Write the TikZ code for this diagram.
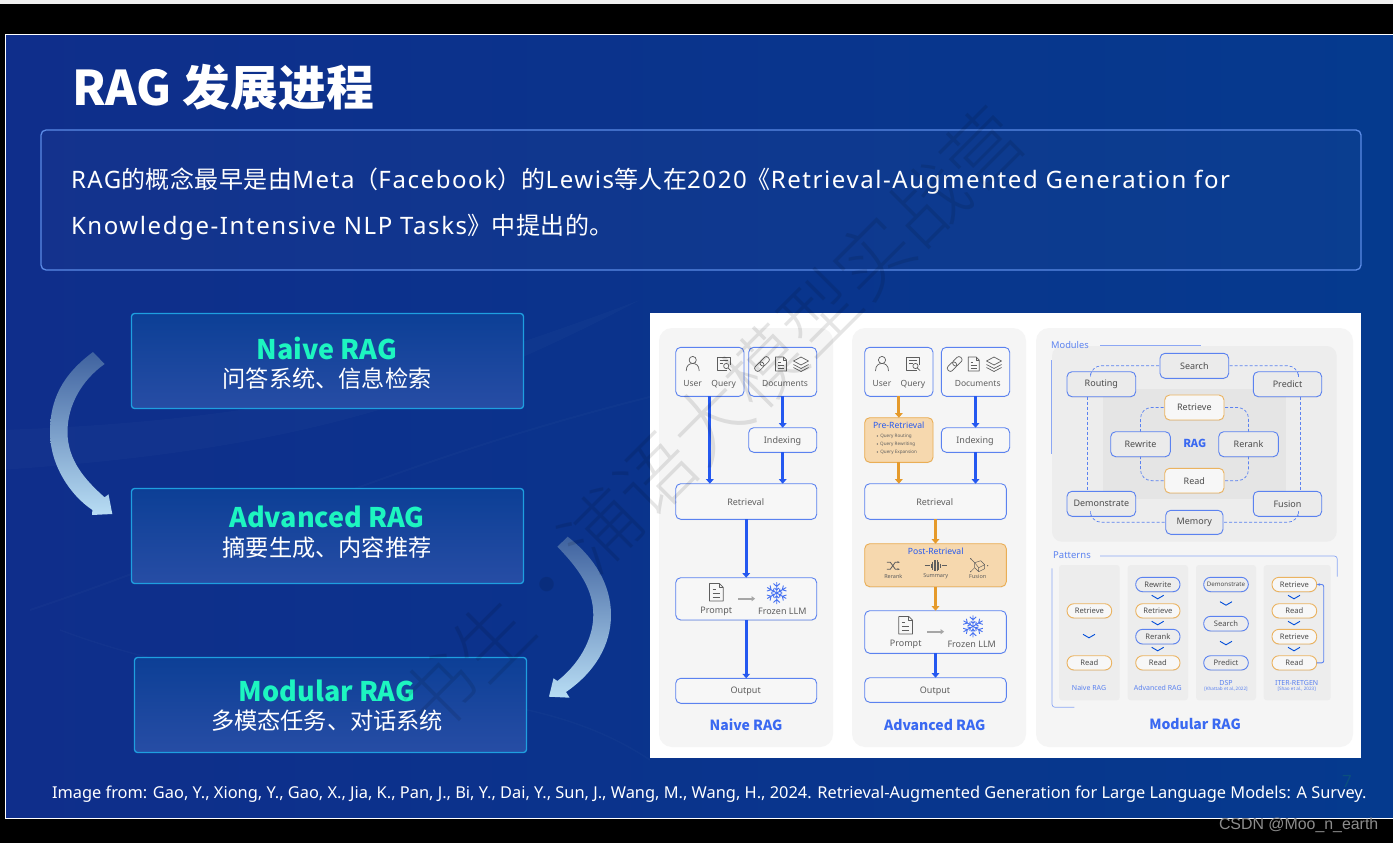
\documentclass[tikz,border=0pt]{standalone}
\usepackage{fontspec}
\setmainfont{Noto Sans}
\newfontfamily\cj{Noto Sans CJK SC}
\newfontfamily\cjt{Noto Sans CJK SC Light}
\newfontfamily\cjs[LetterSpace=2]{Noto Sans CJK SC}
\newfontfamily\las[LetterSpace=6.6]{Noto Sans}
\newfontfamily\arl{Liberation Sans}
\usetikzlibrary{arrows.meta,shadows}
\definecolor{bgl}{HTML}{0F2E8B}
\definecolor{bgr}{HTML}{053A8E}
\definecolor{bluel}{HTML}{2458F0}
\definecolor{boxb}{HTML}{5B82F0}
\definecolor{orl}{HTML}{E59A2B}
\definecolor{orf}{HTML}{F6D8AE}
\definecolor{ink}{HTML}{5E5E5E}
\definecolor{mint}{HTML}{1DF5C0}
\definecolor{sbtop}{HTML}{0C3F96}
\definecolor{sbbot}{HTML}{274DA5}
\definecolor{sbedge}{HTML}{1E9FE0}
\definecolor{arrtop}{HTML}{3F629F}
\definecolor{arrbot}{HTML}{B8DDF4}
\definecolor{introedge}{HTML}{5B8BE6}
\definecolor{pagec}{HTML}{0B4F7E}
\newcommand\fsz[1]{\fontsize{#1}{#1}\selectfont}
\newcommand\bx[6]{\node[#1,minimum width={(#5-#3)*1pt},minimum height={(#6-#4)*1pt}] (#2) at ({(#3+#5)/2},{(#4+#6)/2}) {};}
\newcommand\lb[4]{\node[txt,#1] at (#2,#3) {#4};}
\newcommand\chev[2]{\draw[chevs] (#1-6,#2-2) -- (#1,#2+1.5) -- (#1+6,#2-2);}
\tikzset{
 x=1pt,y=-1pt,
 txt/.style={inner sep=0pt,outer sep=0pt,text=ink,font=\fsz{8.5}},
 card/.style={draw=boxb,line width=.9pt,fill=white!60!black!4,rounded corners=5pt,inner sep=0pt,outer sep=0pt,drop shadow={shadow xshift=0pt,shadow yshift=-.8pt,opacity=.15}},
 flat/.style={card,fill=white!97!black},
 hot/.style={card,draw=orl!80!white,fill=orf},
 modb/.style={card,fill=black!8},
 modo/.style={card,draw=orl!75!white,fill=white!97!black},
 pillb/.style={card,rounded corners=7pt,fill=black!7},
 pillo/.style={card,draw=orl!75!white,rounded corners=7pt,fill=black!3},
 panel/.style={fill=black!4,rounded corners=13pt,inner sep=0pt,outer sep=0pt},
 shade1/.style={fill=black!7,rounded corners=10pt,inner sep=0pt,outer sep=0pt},
 shade2/.style={fill=black!10,inner sep=0pt,outer sep=0pt},
 shade3/.style={fill=black!7,rounded corners=3pt,inner sep=0pt,outer sep=0pt},
 flow/.style={draw=bluel,line width=2.9pt,-{Triangle[width=7.5pt,length=4.5pt]}},
 flowo/.style={draw=orl,line width=2.9pt,-{Triangle[width=7.5pt,length=4.5pt]}},
 dash1/.style={draw=boxb,line width=.7pt,dash pattern=on 3pt off 2pt,rounded corners=11pt},
 thin1/.style={draw=boxb!70!white,line width=.7pt,rounded corners=3pt},
 chevs/.style={draw=blue!65!cyan!85!black,line width=.9pt},
 slidebox/.style={draw=sbedge,line width=1.3pt,rounded corners=3pt,top color=sbtop,bottom color=sbbot,inner sep=0pt,outer sep=0pt},
 ic/.style={draw=ink,line width=.7pt,line join=round},
 icb/.style={draw=bluel!85!white,line width=.9pt},
 heading/.style={txt,text=bluel!90!white,font=\fsz{14}\cj\bfseries},
 pics/person/.style={code={\draw[ic] (0,-4) circle (3.6);\draw[ic] (-6.5,7) .. controls (-6.5,1) and (-3,-.5) .. (0,-.5) .. controls (3,-.5) and (6.5,1) .. (6.5,7);}},
 pics/queryic/.style={code={\draw[ic] (3.5,6.5) -- (-6.5,6.5) -- (-6.5,-6.5) -- (6.5,-6.5) -- (6.5,1);\draw[ic] (-4,-3.5)--(4,-3.5) (-4,-.5)--(-.5,-.5);\draw[ic] (2.5,2) circle (2.6);\draw[ic] (4.4,4)--(7,6.5);}},
 pics/linkic/.style={code={\begin{scope}[rotate=45]\draw[ic,rounded corners=2.5pt] (-9,-3) rectangle (1.5,3);\draw[ic,rounded corners=2.5pt] (-1.5,-3) rectangle (9,3);\end{scope}}},
 pics/docic/.style={code={\draw[ic] (-5.5,-7) -- (2.5,-7) -- (5.5,-4) -- (5.5,7) -- (-5.5,7) -- cycle;\draw[ic] (2.5,-7)--(2.5,-4)--(5.5,-4);\draw[ic] (-3,-2)--(-.5,-2) (-3,1)--(3,1) (-3,4)--(3,4);}},
 pics/layersic/.style={code={\draw[ic] (0,-7)--(7.5,-3)--(0,1)--(-7.5,-3)--cycle;\draw[ic] (-7.5,0.5)--(0,4.5)--(7.5,0.5);\draw[ic] (-7.5,3.5)--(0,7.5)--(7.5,3.5);}},
 pics/snow/.style={code={\foreach \a in {0,60,...,300}{\begin{scope}[rotate=\a]\draw[icb] (0,0)--(0,-11) (-3.2,-9.5)--(0,-6.5)--(3.2,-9.5) (-2.2,-5)--(0,-3)--(2.2,-5);\end{scope}}}},
 pics/grayarrow/.style={code={\draw[draw=black!35,line width=1.6pt,-{Triangle[width=5pt,length=3.5pt]}] (-8.5,0)--(8.5,0);}},
 pics/shuffleic/.style={code={\draw[ic,line width=.8pt,->,>={Stealth[length=2.5pt]}] (-6.5,-3.5)--(-3,-3.5)--(2,3.5)--(6.5,3.5);\draw[ic,line width=.8pt,->,>={Stealth[length=2.5pt]}] (-6.5,3.5)--(-3,3.5)--(2,-3.5)--(6.5,-3.5);}},
 pics/waveic/.style={code={\draw[ic,line width=.5pt] (-11,0)--(-6,0) (6,0)--(11,0);\foreach \p/\h in {-4.5/2,-3/4,-1.5/5.5,0/5.5,1.5/5.5,3/4,4.5/2}{\draw[ic,line width=.5pt] (\p,-\h)--(\p,\h);}}},
 pics/fusionic/.style={code={\draw[ic,line width=.45pt] (-3,-3)--(3,-5)--(7,-1)--(1,2)--cycle;\draw[ic,line width=.45pt] (-3,-3)--(-3,2)--(1,6)--(7,3)--(7,-1) (1,2)--(1,6);\draw[ic,line width=.45pt] (-7,-7)--(-3,-3) (-7,6)--(-3,2);\fill[ink] (-7,-7) circle (.7) (-7,6) circle (.7) (10,0) circle (.7);}},
}
\begin{document}
\begin{tikzpicture}
\useasboundingbox (0,0) rectangle (1393,843);
\fill[black] (0,0) rectangle (1393,843);
\fill[black!6] (0,0) rectangle (1393,4);
% slide
\shade[left color=bgl,right color=bgr,draw=white,line width=1pt] (5.5,34.5) rectangle (1394,818.5);
% faint background waves
\begin{scope}[white,opacity=.02]
\draw[line width=2pt] (30,610) .. controls (300,520) and (500,400) .. (1000,330);
\draw[line width=1.5pt] (60,630) .. controls (300,720) and (500,660) .. (650,760);
\fill (0,430) .. controls (300,420) and (450,370) .. (640,300) .. controls (450,400) and (300,450) .. (0,470) -- cycle;
\end{scope}
% title
\node[inner sep=0pt,outer sep=0pt,anchor=west,text=white] (title) at (72.5,87) {\fsz{47.8}\cj\bfseries RAG 发展进程};
% intro box
\node[draw=introedge,line width=1.3pt,fill=white,fill opacity=.025,rounded corners=5pt,minimum width=1320pt,minimum height=140pt,inner sep=0pt,outer sep=0pt] (intro) at (701,200) {};
\node[inner sep=0pt,outer sep=0pt,anchor=west,text=white] (l1) at (71,181) {\fsz{24}\las RAG{\cjs 的概念最早是由}Meta{\cjs （}Facebook{\cjs ）的}Lewis{\cjs 等人在}2020{\cjs 《}Retrieval-Augmented Generation for};
\node[inner sep=0pt,outer sep=0pt,anchor=west,text=white] (l2) at (71,227) {\fsz{24}\las Knowledge-Intensive NLP Tasks{\cjs 》中提出的。}};
% left boxes
\bx{slidebox}{nb}{131.5}{313.5}{523.5}{408.5}
\bx{slidebox}{ab}{131.5}{488.5}{523.5}{583.5}
\bx{slidebox}{mb}{134.5}{657.5}{526.5}{752.5}
\node[inner sep=0pt,text=mint] (n1) at (327,348) {\fsz{27}\cj\bfseries Naive RAG};
\node[inner sep=0pt,text=white] (n2) at (327,379) {\fsz{23.2}\cj 问答系统、信息检索};
\node[inner sep=0pt,text=mint] (a1) at (327,517) {\fsz{27}\cj\bfseries Advanced RAG};
\node[inner sep=0pt,text=white] (a2) at (327,548) {\fsz{23.2}\cj 摘要生成、内容推荐};
\node[inner sep=0pt,text=mint] (m1) at (327,691) {\fsz{27}\cj\bfseries Modular RAG};
\node[inner sep=0pt,text=white] (m2) at (327,721) {\fsz{23.2}\cj 多模态任务、对话系统};
% big curved arrows
\shade[top color=arrtop,bottom color=arrbot]
 (93,352) .. controls (62,375) and (50,400) .. (50,432) .. controls (50,465) and (70,495) .. (92.4,510) -- (92,515) -- (112.3,514) -- (108.5,494.3) -- (104.6,497.3) .. controls (85,480) and (67.5,460) .. (67.5,432) .. controls (67.5,405) and (82,380) .. (104.6,364) -- cycle;
\shade[top color=arrtop,bottom color=arrbot]
 (557.4,546.7) .. controls (580,570) and (593.3,590) .. (593.3,615) .. controls (593.3,640) and (578,665) .. (557.4,681) -- (553.5,678.3) -- (549,696.7) -- (569.6,697.7) -- (566,692) .. controls (595,672) and (611,645) .. (611,615) .. controls (611,585) and (595,558) .. (567.7,536.7) -- cycle;
% figure
\fill[white] (650,313) rectangle (1361,758);
\bx{panel}{pn}{659}{328}{833}{747}
\bx{panel}{pa}{852}{328}{1026}{747}
\bx{panel}{pm}{1036}{328}{1353}{747}
% ---------- Naive
\bx{flat}{nuq}{675.7}{347.3}{744}{396.3}
\bx{flat}{ndoc}{748.7}{347.3}{816.7}{396.3}
\bx{flat}{nidx}{748.7}{427.7}{816.7}{452.3}
\bx{flat}{nret}{675.7}{483.7}{816.7}{519.3}
\bx{flat}{npr}{675.7}{577.7}{816.7}{620}
\bx{flat}{nout}{675.7}{678.3}{816.7}{703.3}
\draw[flow] (nuq.south) -- (nuq.south |- nret.north);
\draw[flow] (ndoc.south) -- (nidx.north);
\draw[flow] (nidx.south) -- (nidx.south |- nret.north);
\draw[flow] (nret.south) -- (npr.north);
\draw[flow] (npr.south) -- (nout.north);
\pic at (692.7,364) {person};
\pic at (723.7,364) {queryic};
\pic at (762,364) {linkic};
\pic at (781,364) {docic};
\pic at (801,364) {layersic};
\lb{}{692.7}{384}{User}
\lb{}{723.7}{384}{Query}
\lb{}{785}{384}{Documents}
\lb{font=\fsz{9}}{782.5}{441}{Indexing}
\lb{font=\fsz{9}}{745.7}{502}{Retrieval}
\pic[scale=1.25] at (716.3,592.3) {docic};
\pic at (746.6,598.7) {grayarrow};
\pic at (776.7,593) {snow};
\lb{font=\fsz{9}}{716.3}{611}{Prompt}
\lb{font=\fsz{9}}{782.3}{611}{Frozen LLM}
\lb{font=\fsz{9}}{745.7}{691.5}{Output}
\node[heading] (tn) at (746,724.5) {Naive RAG};
% ---------- Advanced
\bx{flat}{auq}{864.7}{347.3}{933}{396.3}
\bx{flat}{adoc}{941.3}{347.3}{1009.7}{396.3}
\bx{flat}{aidx}{941.3}{427.7}{1009.7}{452.3}
\bx{hot}{apre}{864.7}{417.7}{933}{462.3}
\bx{flat}{aret}{864.7}{483.7}{1006.3}{519.3}
\bx{hot}{apost}{864.7}{543.7}{1006.3}{586.7}
\bx{flat}{apr}{864.7}{610.7}{1006.3}{653.3}
\bx{flat}{aout}{864.7}{677.7}{1006.3}{702.3}
\draw[flowo] (auq.south) -- (apre.north);
\draw[flowo] (apre.south) -- (apre.south |- aret.north);
\draw[flow] (adoc.south) -- (aidx.north);
\draw[flow] (aidx.south) -- (aidx.south |- aret.north);
\draw[flowo] (aret.south) -- (apost.north);
\draw[flowo] (apost.south) -- (apr.north);
\draw[flow] (apr.south) -- (aout.north);
\pic at (882,364) {person};
\pic at (913,364) {queryic};
\pic at (954.7,364) {linkic};
\pic at (973.7,364) {docic};
\pic at (994,364) {layersic};
\lb{}{882}{384}{User}
\lb{}{913}{384}{Query}
\lb{}{977.7}{384}{Documents}
\lb{font=\fsz{9}}{975}{441}{Indexing}
\lb{text=bluel,font=\fsz{8.6}}{898.7}{425.7}{Pre-Retrieval}
\lb{font=\fsz{4.6}}{896}{436}{Query Routing}
\lb{font=\fsz{4.6}}{897.7}{444}{Query Rewriting}
\lb{font=\fsz{4.6}}{898.7}{452}{Query Expansion}
\fill[ink] (877.3,436) circle (.7) (877.3,444) circle (.7) (877.3,452) circle (.7);
\lb{font=\fsz{9}}{934.7}{502}{Retrieval}
\lb{text=bluel,font=\fsz{8.6}}{935.7}{551.7}{Post-Retrieval}
\pic at (893.3,565.7) {shuffleic};
\pic at (935.7,565.7) {waveic};
\pic at (977.7,565.7) {fusionic};
\lb{font=\fsz{5.5}}{893.3}{576.3}{Rerank}
\lb{font=\fsz{5.5}}{935.7}{576.3}{Summary}
\lb{font=\fsz{5.5}}{977.7}{576.3}{Fusion}
\pic[scale=1.25] at (905.7,625.3) {docic};
\pic at (935.6,631.7) {grayarrow};
\pic at (973,626.3) {snow};
\lb{font=\fsz{9}}{905.7}{644.5}{Prompt}
\lb{font=\fsz{9}}{971.7}{644.5}{Frozen LLM}
\lb{font=\fsz{9}}{935}{691}{Output}
\node[heading] (ta) at (934.7,724.7) {Advanced RAG};
% ---------- Modules
\coordinate (mla) at (1100,345); \coordinate (mlb) at (1200.7,345);
\coordinate (mva) at (1051.3,360); \coordinate (mvb) at (1051.3,454);
\bx{shade1}{mg}{1052}{346}{1336.7}{541.7}
\draw[thin1] (mla) -- (mlb);
\draw[thin1] (mva) -- (mvb);
\lb{text=boxb,font=\fsz{9.3}}{1070}{345}{Modules}
\bx{shade2}{mi}{1103.3}{389}{1285.7}{499.3}
\bx{modb}{search}{1160}{353.3}{1228.7}{378.3}
\bx{modb}{routing}{1067}{371.7}{1135.7}{396.7}
\bx{modb}{predict}{1253.3}{371.7}{1321.7}{396.7}
\bx{modb}{demo}{1067}{491.3}{1135.7}{516.3}
\bx{modb}{fusion}{1253.3}{491.3}{1321.7}{516.3}
\bx{modb}{memory}{1165.7}{510.3}{1223}{534.3}
\bx{modo}{retr}{1164.7}{395}{1224}{420}
\bx{modo}{read}{1164.7}{468.3}{1224}{493}
\bx{modb}{rewrite}{1110.7}{431.7}{1170.3}{456.7}
\bx{modb}{rerank}{1218.7}{431.7}{1278.3}{456.7}
\draw[dash1] ([xshift=-1pt]search.west) -| ([xshift=-11pt]routing.north);
\draw[dash1] ([xshift=1pt]search.east) -| ([xshift=11pt]predict.north);
\draw[dash1] ([xshift=-14pt]routing.south) -- ([xshift=-14pt]demo.north);
\draw[dash1] ([xshift=13pt]predict.south) -- ([xshift=13pt]fusion.north);
\draw[dash1] ([xshift=-1pt]memory.west) -| ([xshift=-11pt]demo.south);
\draw[dash1] ([xshift=1pt]memory.east) -| ([xshift=11pt]fusion.south);
\draw[dash1] ([xshift=-1pt]retr.west) -| (rewrite.north);
\draw[dash1] ([xshift=1pt]retr.east) -| (rerank.north);
\draw[dash1] ([xshift=-1pt]read.west) -| (rewrite.south);
\draw[dash1] ([xshift=1pt]read.east) -| (rerank.south);
\foreach \n/\t in {search/Search,routing/Routing,predict/Predict,demo/Demonstrate,fusion/Fusion,memory/Memory,retr/Retrieve,read/Read,rewrite/Rewrite,rerank/Rerank}{\node[txt,text=black!70,font=\fsz{9}] at (\n) {\t};}
\node[txt,text=bluel!90!white,font=\fsz{11}\cj\bfseries] (ragc) at (1194.7,443.7) {RAG};
% ---------- Patterns
\lb{text=boxb,font=\fsz{9.5}}{1072}{555.3}{Patterns}
\coordinate (pa1) at (1100,556); \coordinate (pa2) at (1337.3,556); \coordinate (pa3) at (1337.3,576.7);
\coordinate (pb1) at (1052,568.3); \coordinate (pb2) at (1052,707.3); \coordinate (pb3) at (1074.3,707.3);
\draw[thin1] (pa1) -- (pa2) -- (pa3);
\draw[thin1] (pb1) -- (pb2) -- (pb3);
\bx{shade3}{c1}{1059}{565}{1119.7}{700.3}
\bx{shade3}{c2}{1127.7}{565}{1188}{700.3}
\bx{shade3}{c3}{1196}{565}{1256}{700.3}
\bx{shade3}{c4}{1263.7}{565}{1330.7}{700.3}
\bx{pillo}{p11}{1067}{603.7}{1111.7}{618}
\bx{pillo}{p12}{1067}{655.7}{1111.7}{670}
\bx{pillb}{p21}{1135.7}{577.3}{1180}{591.7}
\bx{pillo}{p22}{1135.7}{603.7}{1180}{618}
\bx{pillb}{p23}{1135.7}{629.3}{1180}{644}
\bx{pillo}{p24}{1135.7}{655.7}{1180}{670}
\bx{pillb}{p31}{1203.7}{577.3}{1248.3}{591.7}
\bx{pillb}{p32}{1203.7}{616.3}{1248.3}{631}
\bx{pillb}{p33}{1203.7}{655.7}{1248.3}{670}
\bx{pillo}{p41}{1272}{577.3}{1316.7}{591.7}
\bx{pillo}{p42}{1272}{603.7}{1316.7}{618}
\bx{pillo}{p43}{1272}{629.3}{1316.7}{644}
\bx{pillo}{p44}{1272}{655.7}{1316.7}{670}
\foreach \n/\t in {p11/Retrieve,p12/Read,p21/Rewrite,p22/Retrieve,p23/Rerank,p24/Read,p32/Search,p33/Predict,p41/Retrieve,p42/Read,p43/Retrieve,p44/Read}{\node[txt,text=black!70,font=\fsz{7.6}] at (\n) {\t};}
\node[txt,text=black!70,font=\fsz{6.2}] at (p31) {Demonstrate};
\chev{1089}{636.3}
\chev{1157.7}{597.3}\chev{1157.7}{623.3}\chev{1157.7}{649.3}
\chev{1226}{603.7}\chev{1226}{643.3}
\chev{1294}{597.3}\chev{1294}{623.3}\chev{1294}{649.3}
\draw[draw=boxb,line width=.9pt,rounded corners=2pt,-{Stealth[length=3.5pt]}] (p44.east) -- ++(7,0) |- (p41.east);
\lb{text=boxb,font=\fsz{7}}{1089}{687.7}{Naive RAG}
\lb{text=boxb,font=\fsz{7}}{1157.7}{687.7}{Advanced RAG}
\lb{text=boxb,font=\fsz{7}}{1226}{682.7}{DSP}
\lb{text=boxb,font=\fsz{4.6}}{1226}{689}{[Khattab et al.,2022]}
\lb{text=boxb,font=\fsz{7}}{1296.7}{682.7}{ITER-RETGEN}
\lb{text=boxb,font=\fsz{4.6}}{1296.7}{689}{[Shao et al., 2023]}
\node[heading] (tm) at (1195,724.3) {Modular RAG};
% footer
\node[inner sep=0pt,outer sep=0pt,anchor=west,text=white] (foot) at (52,794.5) {\fsz{16.38}Image from: Gao, Y., Xiong, Y., Gao, X., Jia, K., Pan, J., Bi, Y., Dai, Y., Sun, J., Wang, M., Wang, H., 2024. Retrieval-Augmented Generation for Large Language Models: A Survey.};
\node[inner sep=0pt,text=pagec] (pg) at (1347,781) {\fsz{17}7};
% watermark
\node[inner sep=0pt,rotate=45,opacity=.1,text=black] (wm) at (710,421) {\fsz{77}\cjt 书生\makebox[1em]{·}浦语大模型实战营};
% csdn
\node[inner sep=0pt,outer sep=0pt,anchor=west,text=black!45!white] (csdn) at (1219,825) {\fsz{15.9}\arl CSDN @Moo\_n\_earth};
\end{tikzpicture}
\end{document}
